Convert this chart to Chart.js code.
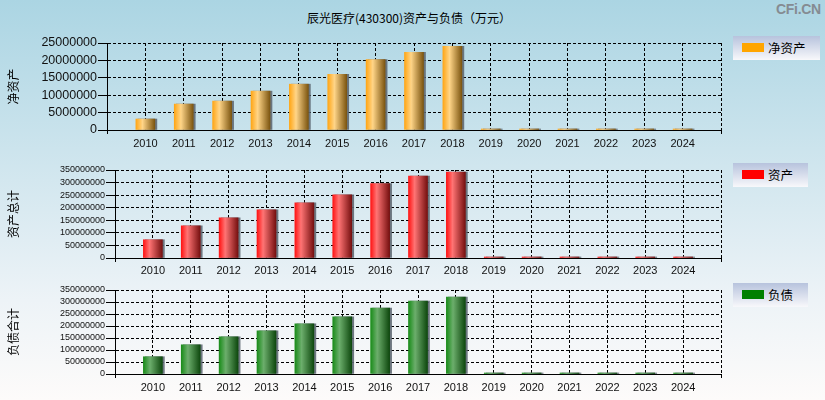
<!DOCTYPE html>
<html>
<head>
<meta charset="utf-8">
<script src="https://cdn.jsdelivr.net/npm/chart.js@4/dist/chart.umd.min.js"></script>
<style>
  html, body { margin: 0; padding: 0; }
  body {
    width: 825px; height: 400px; overflow: hidden; position: relative;
    background: linear-gradient(to bottom, #abd5e3 0%, #d3e7ef 45%, #edf3f7 75%, #fdfbfa 100%);
    font-family: "Noto Sans CJK SC", "Liberation Sans", sans-serif;
  }
  canvas { position: absolute; left: 0; }
  .title {
    position: absolute; left: 0; width: 818px; top: 9px; text-align: center;
    font-size: 12px; color: #000; line-height: 18px;
  }
  .mark {
    position: absolute; left: 776px; top: 1px; font: bold 14px "Liberation Sans", Arial, sans-serif;
    color: #858b92; letter-spacing: -0.3px;
  }
  .legend {
    position: absolute; left: 733px; height: 24px;
    background: linear-gradient(to bottom, #b7c3dd, #f8f8fb);
  }
  .legend i { position: absolute; left: 9px; top: 7px; width: 22px; height: 9px; }
  .legend span { position: absolute; left: 35px; top: 3px; font-size: 12.5px; line-height: 17px; color: #000; }
</style>
</head>
<body>
<div class="title">辰光医疗(430300)资产与负债（万元）</div>
<div class="mark">CFi.CN</div>

<canvas id="cNet" width="725" height="125" style="top:30px"></canvas>
<canvas id="cAsset" width="725" height="120" style="top:160px"></canvas>
<canvas id="cDebt" width="725" height="118" style="top:282px"></canvas>

<div class="legend" style="top:36px;width:87px"><i style="background:#ffa500"></i><span>净资产</span></div>
<div class="legend" style="top:163px;width:75px"><i style="background:#ff0000"></i><span>资产</span></div>
<div class="legend" style="top:283px;width:75px"><i style="background:#008000"></i><span>负债</span></div>

<script>
// 数据（万元）
const years = ['2010', '2011', '2012', '2013', '2014', '2015', '2016', '2017',
  '2018', '2019', '2020', '2021', '2022', '2023', '2024'];
const netAssets = [3150000, 7450000, 8300000, 11170000, 13170000, 16030000, 20200000,
  22330000, 24050000, 0, 0, 0, 0, 0, 0];
const totalAssets = [72600000, 128000000, 159800000, 191500000, 219000000, 251000000,
  296000000, 326000000, 342000000, 0, 0, 0, 0, 0, 0];
const totalDebt = [71900000, 121700000, 155000000, 179800000, 209000000, 238000000,
  275000000, 304000000, 321000000, 0, 0, 0, 0, 0, 0];
const netTicks = [0, 5000000, 10000000, 15000000, 20000000, 25000000];
const bigTicks = [0, 50000000, 100000000, 150000000, 200000000, 250000000, 300000000, 350000000];

const BAR_W = 19;
const LABEL_FONT = "'Liberation Sans', Arial, sans-serif";

// 横向渐变，模拟圆柱效果
function barGradient(stops) {
  return ctx => {
    const chart = ctx.chart;
    if (!chart.chartArea || ctx.type !== 'data') return stops[0][1];
    const x = chart.scales.x.getPixelForValue(ctx.dataIndex);
    const g = chart.ctx.createLinearGradient(x - BAR_W / 2, 0, x + BAR_W / 2, 0);
    stops.forEach(([o, c]) => g.addColorStop(o, c));
    return g;
  };
}

// 柱子右侧的灰色阴影
const shadowPlugin = {
  id: 'barShadow',
  beforeDatasetDraw(chart) {
    const c = chart.ctx;
    c.save();
    c.shadowColor = 'rgba(95,105,115,0.9)';
    c.shadowOffsetX = 2;
    c.shadowOffsetY = 0;
    c.shadowBlur = 0;
  },
  afterDatasetDraw(chart) {
    chart.ctx.restore();
  },
};

function buildChart(id, opts) {
  const labels = ['', ...years, ''];
  const lastIdx = labels.length - 1;
  return new Chart(document.getElementById(id), {
    type: 'bar',
    data: {
      labels,
      datasets: [{
        data: [null, ...opts.values, null],
        backgroundColor: barGradient(opts.stops),
        barThickness: BAR_W,
        minBarLength: 1,
        borderWidth: 0,
      }],
    },
    options: {
      responsive: false,
      devicePixelRatio: 1,
      animation: false,
      events: [],
      layout: { padding: { top: opts.padTop, right: 4, left: 0, bottom: 0 } },
      plugins: { legend: { display: false }, tooltip: { enabled: false } },
      scales: {
        x: {
          offset: false,
          grid: {
            offset: false,
            color: '#000',
            lineWidth: 1,
            tickLength: 4,
            tickColor: c => (c.index === 0 || c.index === lastIdx) ? '#000' : 'rgba(0,0,0,0)',
            tickBorderDash: [],
          },
          border: { color: '#000', width: 1, dash: [3, 2] },
          ticks: {
            autoSkip: false, maxRotation: 0, padding: opts.xPad,
            color: '#111', font: { family: LABEL_FONT, size: 11 },
          },
          afterFit: s => { s.height = opts.xHeight; },
        },
        y: {
          min: 0,
          max: opts.ticks[opts.ticks.length - 1],
          afterBuildTicks: s => { s.ticks = opts.ticks.map(v => ({ value: v })); },
          grid: { color: '#000', lineWidth: 1, tickLength: 9, tickBorderDash: [] },
          border: { color: '#000', width: 1, dash: [3, 2] },
          ticks: {
            autoSkip: false, padding: 1, color: '#111',
            font: { family: LABEL_FONT, size: opts.tickSize },
            callback: v => String(v),
          },
          title: {
            display: true, text: opts.yTitle, color: '#000',
            font: { family: "'Noto Sans CJK SC', sans-serif", size: 12 },
            padding: { top: 6, bottom: 0 },
          },
          afterFit: s => { s.width = opts.yWidth; },
        },
      },
    },
    plugins: [shadowPlugin],
  });
}

buildChart('cNet', {
  values: netAssets, ticks: netTicks, yTitle: '净资产',
  stops: [[0, '#ffa616'], [0.35, '#ffd588'], [1, '#7c5510']],
  padTop: 13, xHeight: 25, yWidth: 107, tickSize: 12.5, xPad: 3,
});
buildChart('cAsset', {
  values: totalAssets, ticks: bigTicks, yTitle: '资产总计',
  stops: [[0, '#ff1414'], [0.32, '#ff7474'], [1, '#761010']],
  padTop: 10, xHeight: 22, yWidth: 115, tickSize: 9, xPad: 2,
});
buildChart('cDebt', {
  values: totalDebt, ticks: bigTicks, yTitle: '负债合计',
  stops: [[0, '#1a8c1a'], [0.35, '#6cae6c'], [1, '#0e480e']],
  padTop: 8, xHeight: 26, yWidth: 115, tickSize: 9, xPad: 3,
});
</script>
</body>
</html>
